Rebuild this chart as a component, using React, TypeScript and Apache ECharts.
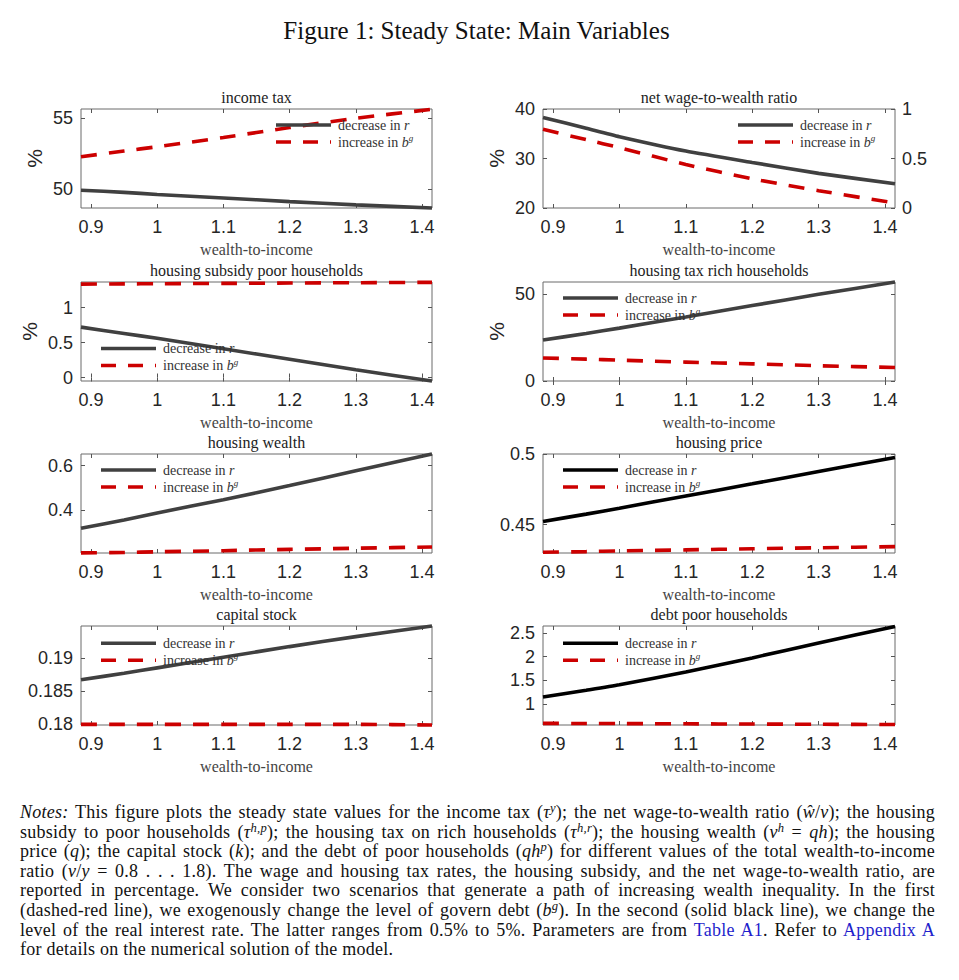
import React, { useEffect, useRef } from 'react';
import * as echarts from 'echarts';

// ---------- data ----------
const xs = [0.885, 0.95, 1.0, 1.1, 1.2, 1.3, 1.415];
const xTicks = [0.9, 1.0, 1.1, 1.2, 1.3, 1.4];

const incomeTaxR = [49.95, 49.8, 49.65, 49.4, 49.15, 48.92, 48.7];
const incomeTaxBg = [52.3, 52.7, 53.0, 53.65, 54.35, 55.0, 55.63];

const wageWealthR = [38.3, 36.1, 34.4, 31.5, 29.2, 27.0, 24.9];
const wageWealthBg = [35.9, 33.8, 32.2, 28.8, 25.9, 23.5, 21.0];

const subsidyPoorR = [0.72, 0.63, 0.56, 0.41, 0.26, 0.11, -0.05];
const subsidyPoorBg = [1.335, 1.338, 1.34, 1.345, 1.35, 1.355, 1.36];

const taxRichR = [23.6, 27.4, 30.5, 36.9, 43.5, 50.0, 57.1];
const taxRichBg = [13.3, 12.6, 12.0, 10.9, 9.9, 8.8, 7.8];

const housingWealthR = [0.317, 0.354, 0.386, 0.446, 0.51, 0.577, 0.653];
const housingWealthBg = [0.205, 0.207, 0.21, 0.215, 0.221, 0.226, 0.232];

const housingPriceR = [0.4523, 0.4575, 0.4617, 0.4703, 0.4789, 0.4876, 0.4975];
const housingPriceBg = [0.4305, 0.431, 0.4315, 0.4322, 0.433, 0.4337, 0.4345];

const capitalR = [0.1867, 0.1877, 0.1885, 0.1901, 0.1917, 0.1932, 0.1948];
const capitalBg = [0.18, 0.18, 0.18, 0.18, 0.18, 0.18, 0.1799];

const debtPoorR = [1.146, 1.29, 1.405, 1.675, 1.975, 2.29, 2.64];
const debtPoorBg = [0.59, 0.587, 0.585, 0.58, 0.575, 0.57, 0.565];

const panelTitles = [
  'income tax',
  'net wage-to-wealth ratio',
  'housing subsidy poor households',
  'housing tax rich households',
  'housing wealth',
  'housing price',
  'capital stock',
  'debt poor households',
];

const yTicks = [
  [50, 55],
  [20, 30, 40],
  [0, 0.5, 1],
  [0, 50],
  [0.4, 0.6],
  [0.45, 0.5],
  [0.18, 0.185, 0.19],
  [1, 1.5, 2, 2.5],
];
const yRanges = [
  [48.7, 55.65],
  [20, 40],
  [-0.05, 1.365],
  [0, 57.1],
  [0.2045, 0.653],
  [0.43, 0.5],
  [0.1799, 0.1948],
  [0.555, 2.65],
];
const rightTicks2 = [0, 0.5, 1];
const rightRange2 = [0, 1];

const legendLabels = ['decrease in {i|r}', 'increase in {i|b}{s|g}'];
const mainTitle = 'Figure 1: Steady State: Main Variables';
const xName = 'wealth-to-income';

// ---------- layout / style ----------
const SERIF = '"Liberation Serif", "DejaVu Serif", serif';
const SANS = '"Liberation Sans", Arial, Helvetica, sans-serif';
const RED = '#cc0000';
const GRAY = '#404040';
const colLeft = [81, 543];
const colWidth = [351, 352];
const rowTop = [109, 282, 454, 626];
const boxH = 99;

const panels = [
  { r: incomeTaxR, b: incomeTaxBg, rc: GRAY, pct: true, nameGap: 36, leg: [195, 16] },
  { r: wageWealthR, b: wageWealthBg, rc: GRAY, pct: true, nameGap: 36, leg: [195, 16] },
  { r: subsidyPoorR, b: subsidyPoorBg, rc: GRAY, pct: true, nameGap: 41, leg: [20, 66.5] },
  { r: taxRichR, b: taxRichBg, rc: GRAY, pct: true, nameGap: 36, leg: [20, 16] },
  { r: housingWealthR, b: housingWealthBg, rc: GRAY, pct: false, nameGap: 36, leg: [20, 16] },
  { r: housingPriceR, b: housingPriceBg, rc: '#000000', pct: false, nameGap: 36, leg: [20, 16] },
  { r: capitalR, b: capitalBg, rc: GRAY, pct: false, nameGap: 36, leg: [20, 17.3] },
  { r: debtPoorR, b: debtPoorBg, rc: '#000000', pct: false, nameGap: 36, leg: [20, 17.3] },
];

const fmtX = (v: number) => {
  const r = Math.round(v * 10) / 10;
  return r === 1 ? '1' : r.toFixed(1);
};
const fmtY = (v: number) => String(+(+v).toFixed(4));

function buildOption() {
  const grid: any[] = [];
  const xAxis: any[] = [];
  const yAxis: any[] = [];
  const series: any[] = [];
  const graphic: any[] = [];

  graphic.push({
    type: 'text',
    x: 476.5,
    y: 30,
    z: 100,
    style: {
      text: mainTitle,
      font: `25px ${SERIF}`,
      fill: '#111',
      align: 'center',
      verticalAlign: 'middle',
    },
  });

  const tickStyle = { color: '#555', width: 1 };
  const labelFont = { fontFamily: SANS, fontSize: 18, color: '#262626' };

  panels.forEach((p, i) => {
    const col = i % 2;
    const row = Math.floor(i / 2);
    const left = colLeft[col];
    const top = rowTop[row];
    const width = colWidth[col];
    grid.push({
      left,
      top,
      width,
      height: boxH,
      show: true,
      borderColor: '#6a6a6a',
      borderWidth: 1,
      backgroundColor: 'transparent',
      containLabel: false,
      outerBoundsMode: 'none',
    });
    xAxis.push({
      type: 'value',
      gridIndex: i,
      position: 'bottom',
      min: xs[0],
      max: xs[xs.length - 1],
      axisLine: { show: false },
      splitLine: { show: false },
      axisTick: { show: true, inside: true, length: 4, lineStyle: tickStyle, customValues: xTicks },
      axisLabel: { customValues: xTicks, formatter: fmtX, ...labelFont, margin: 10 },
      name: xName,
      nameLocation: 'middle',
      nameGap: 33,
      nameTextStyle: { fontFamily: SERIF, fontSize: 16, color: '#444' },
    });
    xAxis.push({
      type: 'value',
      gridIndex: i,
      position: 'top',
      min: xs[0],
      max: xs[xs.length - 1],
      axisLine: { show: false },
      splitLine: { show: false },
      axisTick: { show: true, inside: true, length: 4, lineStyle: tickStyle, customValues: xTicks },
      axisLabel: { show: false },
    });
    yAxis.push({
      type: 'value',
      gridIndex: i,
      position: 'left',
      min: yRanges[i][0],
      max: yRanges[i][1],
      axisLine: { show: false },
      splitLine: { show: false },
      axisTick: { show: true, inside: true, length: 4, lineStyle: tickStyle, customValues: yTicks[i] },
      axisLabel: { customValues: yTicks[i], formatter: fmtY, ...labelFont, margin: 8 },
      name: p.pct ? '%' : '',
      nameLocation: 'middle',
      nameRotate: 90,
      nameGap: p.nameGap,
      nameTextStyle: { fontFamily: SANS, fontSize: 21, color: '#262626' },
    });
    if (i === 1) {
      yAxis.push({
        type: 'value',
        gridIndex: i,
        position: 'right',
        min: rightRange2[0],
        max: rightRange2[1],
        axisLine: { show: false },
        splitLine: { show: false },
        axisTick: { show: true, inside: true, length: 4, lineStyle: tickStyle, customValues: rightTicks2 },
        axisLabel: { customValues: rightTicks2, formatter: fmtY, ...labelFont, margin: 7 },
      });
    } else {
      yAxis.push({
        type: 'value',
        gridIndex: i,
        position: 'right',
        min: yRanges[i][0],
        max: yRanges[i][1],
        axisLine: { show: false },
        splitLine: { show: false },
        axisTick: { show: true, inside: true, length: 4, lineStyle: tickStyle, customValues: yTicks[i] },
        axisLabel: { show: false },
      });
    }

    series.push({
      type: 'line',
      name: 'decrease in r',
      xAxisIndex: 2 * i,
      yAxisIndex: 2 * i,
      data: xs.map((x, j) => [x, p.r[j]]),
      showSymbol: false,
      clip: false,
      silent: true,
      smooth: 0.2,
      lineStyle: { color: p.rc, width: 3.6 },
      z: 3,
    });
    series.push({
      type: 'line',
      name: 'increase in b^g',
      xAxisIndex: 2 * i,
      yAxisIndex: 2 * i,
      data: xs.map((x, j) => [x, p.b[j]]),
      showSymbol: false,
      clip: false,
      silent: true,
      smooth: 0.2,
      lineStyle: { color: RED, width: 3.6, type: [16, 12], cap: 'butt' },
      z: 4,
    });

    graphic.push({
      type: 'text',
      x: left + width / 2,
      y: top - 11.5,
      z: 100,
      style: {
        text: panelTitles[i],
        font: `16px ${SERIF}`,
        fill: '#222',
        align: 'center',
        verticalAlign: 'middle',
      },
    });

    const lx = left + p.leg[0];
    const ly = top + p.leg[1];
    [0, 1].forEach((k) => {
      const yy = ly + k * 17;
      graphic.push({
        type: 'line',
        z: 100,
        shape: { x1: lx, y1: yy, x2: lx + 55, y2: yy },
        style: {
          stroke: k === 0 ? p.rc : RED,
          lineWidth: 3.6,
          lineDash: k === 0 ? null : [15, 12],
          lineCap: 'butt',
        },
      });
      graphic.push({
        type: 'text',
        z: 100,
        x: lx + 62,
        y: yy,
        style: {
          text: legendLabels[k],
          fontFamily: SERIF,
          fontSize: 14,
          fill: '#333',
          verticalAlign: 'middle',
          align: 'left',
          lineHeight: 17,
          rich: {
            i: { fontFamily: SERIF, fontSize: 14, fontStyle: 'italic', fill: '#333', lineHeight: 17 },
            s: { fontFamily: SERIF, fontSize: 9, fontStyle: 'italic', fill: '#333', verticalAlign: 'top', lineHeight: 9 },
          },
        },
      });
    });
  });

  return {
    animation: false,
    backgroundColor: '#ffffff',
    grid,
    xAxis,
    yAxis,
    series,
    graphic,
  };
}

const noteLines: React.ReactNode[] = [
  <>
    <i>Notes:</i> This figure plots the steady state values for the income tax (<i>τ</i>
    <sup><i>y</i></sup>); the net wage-to-wealth ratio (<i>ŵ</i>/<i>v</i>); the housing
  </>,
  <>
    subsidy to poor households (<i>τ</i>
    <sup><i>h,p</i></sup>); the housing tax on rich households (<i>τ</i>
    <sup><i>h,r</i></sup>); the housing wealth (<i>v</i>
    <sup><i>h</i></sup> = <i>qh</i>); the housing
  </>,
  <>
    price (<i>q</i>); the capital stock (<i>k</i>); and the debt of poor households (<i>qh</i>
    <sup><i>p</i></sup>) for different values of the total wealth-to-income
  </>,
  <>
    ratio (<i>v</i>/<i>y</i> = 0.8 . . . 1.8). The wage and housing tax rates, the housing subsidy, and the net
    wage-to-wealth ratio, are
  </>,
  <>
    reported in percentage. We consider two scenarios that generate a path of increasing wealth inequality. In the
    first
  </>,
  <>
    (dashed-red line), we exogenously change the level of govern debt (<i>b</i>
    <sup><i>g</i></sup>). In the second (solid black line), we change the
  </>,
  <>
    level of the real interest rate. The latter ranges from 0.5% to 5%. Parameters are from{' '}
    <span style={{ color: '#1f1fcc' }}>Table A1</span>. Refer to{' '}
    <span style={{ color: '#1f1fcc' }}>Appendix A</span>
  </>,
  <>for details on the numerical solution of the model.</>,
];

export default function App() {
  const ref = useRef<HTMLDivElement>(null);
  useEffect(() => {
    if (!ref.current) return;
    const chart = echarts.init(ref.current, undefined, { renderer: 'svg' });
    chart.setOption(buildOption() as any);
    return () => chart.dispose();
  }, []);

  return (
    <div style={{ position: 'absolute', left: 0, top: 0, width: 959, height: 980, background: '#fff' }}>
      <div ref={ref} style={{ position: 'absolute', left: 0, top: 0, width: 959, height: 980 }} />
      <div
        style={{
          position: 'absolute',
          left: 20,
          top: 803,
          width: 915,
          fontFamily: SERIF,
          fontSize: '18px',
          letterSpacing: '0.25px',
          lineHeight: '19.6px',
          color: '#111',
        }}
      >
        {noteLines.map((ln, k) => (
          <div
            key={k}
            style={{
              whiteSpace: 'nowrap',
              textAlign: k === noteLines.length - 1 ? 'left' : 'justify',
              textAlignLast: k === noteLines.length - 1 ? 'left' : 'justify',
              height: '19.6px',
            }}
          >
            {ln}
          </div>
        ))}
      </div>
      <style>{`sup{font-size:0.7em;line-height:0;vertical-align:0.45em;}`}</style>
    </div>
  );
}
